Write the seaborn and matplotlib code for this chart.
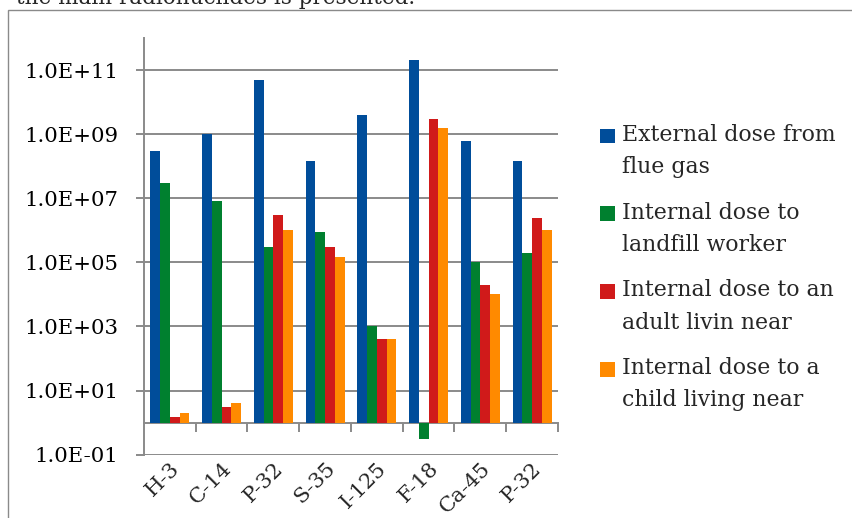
import matplotlib
matplotlib.use("Agg")
import matplotlib.pyplot as plt
from matplotlib.patches import Rectangle, Patch
from matplotlib.legend_handler import HandlerPatch
from matplotlib.ticker import NullLocator
import pandas as pd
import seaborn as sns

# data
nuclides = ["H-3", "C-14", "P-32", "S-35", "I-125", "F-18", "Ca-45", "P-32"]
series = ["External dose from\nflue gas",
          "Internal dose to\nlandfill worker",
          "Internal dose to an\nadult livin near",
          "Internal dose to a\nchild living near"]
external = [3e8, 1e9, 5e10, 1.5e8, 4e9, 2e11, 6e8, 1.5e8]
worker = [3e7, 8e6, 3e5, 9e5, 1e3, 0.3, 1e5, 2e5]
adult = [1.5, 3, 3e6, 3e5, 4e2, 3e9, 2e4, 2.5e6]
child = [2, 4, 1e6, 1.5e5, 4e2, 1.6e9, 1e4, 1e6]
colors = ["#004D9A", "#00802F", "#D01A1A", "#FF8A00"]

rows = []
for name, vals in zip(series, [external, worker, adult, child]):
    for i, v in enumerate(vals):
        rows.append({"pos": i, "dose": v, "series": name})
df = pd.DataFrame(rows)

sns.set_style("white")
plt.rcParams["font.family"] = ["DejaVu Serif"]
gray = "#8a8a8a"
baseline = 1.0  # category axis crosses the value axis at 1

fig = plt.figure(figsize=(8.53, 5.18), dpi=100)
ax = fig.add_axes([144 / 853, 1 - 454.7 / 518, 414 / 853, (454.7 - 38) / 518])

sns.barplot(data=df, x="pos", y="dose", hue="series", hue_order=series,
            palette=colors, width=0.75, saturation=1, errorbar=None,
            legend=False, ax=ax, linewidth=0)

# bars grow from the crossing point (1), as in the original chart
for cont in ax.containers:
    for bar in cont:
        h = bar.get_height()
        bar.set_y(baseline)
        bar.set_height(h - baseline)

ax.set_yscale("log")
ax.set_ylim(1e-1, 1e12)
ax.set_xlim(-0.5, 7.5)
yt = [10.0 ** k for k in range(-1, 12, 2)]
ax.set_yticks(yt)
ax.set_yticklabels([f"1.0E{k:+03d}" for k in range(-1, 12, 2)])
ax.yaxis.set_minor_locator(NullLocator())
ax.grid(axis="y", color=gray, lw=1.4)
ax.set_axisbelow(True)

for s in ["top", "right", "bottom"]:
    ax.spines[s].set_visible(False)
ax.spines["left"].set_color(gray)
ax.spines["left"].set_linewidth(1.4)
ax.tick_params(axis="y", length=5.5, width=1.4, color=gray, pad=13,
               labelsize=15.3, labelcolor="black", left=True)
ax.set_xticks(range(len(nuclides)))
ax.set_xticklabels(nuclides, rotation=45, ha="right", rotation_mode="anchor")
ax.tick_params(axis="x", length=0, pad=3, labelsize=15.3)
ax.set_xlabel("")
ax.set_ylabel("")

# horizontal axis line at 1 with tick marks between categories
sec = ax.secondary_xaxis(1 / 13)
sec.spines["bottom"].set_color(gray)
sec.spines["bottom"].set_linewidth(1.4)
sec.set_xticks([i + 0.5 for i in range(len(nuclides))])
sec.tick_params(length=6.5, width=1.4, color=gray, labelbottom=False)


def top_square(legend, orig_handle, xdescent, ydescent, width, height, fontsize):
    s = 0.68 * fontsize
    return Rectangle((-xdescent, -ydescent + height - s + 0.1 * fontsize), s, s)


handles = [Patch(facecolor=c, edgecolor="none") for c in colors]
leg = ax.legend(handles, series, loc="upper left",
                bbox_to_anchor=(600 / 853, 1 - 124 / 518),
                bbox_transform=fig.transFigure, frameon=False,
                fontsize=15.8, handlelength=0.68, handleheight=2.75,
                handletextpad=0.32, labelspacing=1.07, borderpad=0,
                borderaxespad=0,
                handler_map={Patch: HandlerPatch(patch_func=top_square)})
for t in leg.get_texts():
    t.set_linespacing(1.6)

# surrounding chart frame and the cut document line above it
fig.add_artist(Rectangle((8 / 853, -0.05), 1.0, 1.05 - 10 / 518,
                         transform=fig.transFigure, fill=False,
                         edgecolor="#8a8a8a", lw=1))
fig.text(415 / 853, 1 - 4 / 518, "the main radionuclides is presented.",
         ha="right", va="baseline", fontsize=15.5)

fig.savefig("out.png", dpi=100)
